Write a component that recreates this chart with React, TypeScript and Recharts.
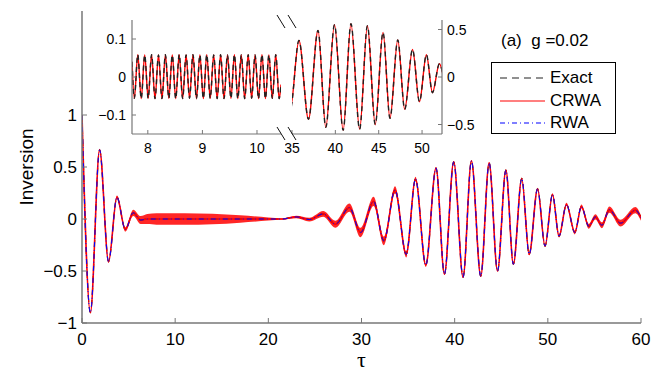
import { Area, ComposedChart, Label, Legend, Line, XAxis, YAxis } from 'recharts'

const FONT = '"Liberation Sans", Arial, Helvetica, sans-serif'
const AXIS = '#777777'
const MINUS = '\u2212'

// main panel: turning points of the slow envelope (Exact, CRWA and RWA overlap at this scale)
const tau = [
  0, 0.9, 1.89, 2.85, 3.75, 4.65, 5.5, 6.3, 7, 8, 11, 14, 17, 20, 21.5, 23, 24.4, 25.9, 27.2,
  28.7, 29.9, 31.3, 32.4, 33.6, 34.8, 35.8, 36.9, 38, 38.9, 39.9, 40.9, 41.8, 42.8, 43.7,
  44.6, 45.5, 46.3, 47.2, 48, 48.9, 49.7, 50.5, 51.2, 52, 52.9, 53.6, 54.4, 55.1, 55.8,
  56.6, 57.8, 59.4, 60,
]
const inversion = [
  1, -0.9, 0.665, -0.41, 0.21, -0.1, 0.06, -0.01, 0, 0, 0, 0, 0, 0, 0, 0.02, -0.005, 0.05, -0.05,
  0.11, -0.13, 0.17, -0.21, 0.28, -0.34, 0.385, -0.445, 0.49, -0.53, 0.55, -0.56, 0.56, -0.55,
  0.54, -0.5, 0.47, -0.435, 0.39, -0.34, 0.29, -0.26, 0.235, -0.165, 0.14, -0.13, 0.12, -0.07,
  0.02, -0.06, 0.09, -0.04, 0.085, 0.01,
]
// half width of the fast counter-rotating ripple (the red band)
const ripple = [
  0.005, 0.008, 0.01, 0.012, 0.015, 0.02, 0.03, 0.038, 0.048, 0.055, 0.055, 0.05, 0.035, 0.015,
  0.006, 0.012, 0.018, 0.028, 0.034, 0.04, 0.045, 0.045, 0.042, 0.036, 0.03, 0.022, 0.016, 0.01,
  0.008, 0.006, 0.006, 0.006, 0.006, 0.006, 0.006, 0.006, 0.006, 0.008, 0.008, 0.01, 0.01,
  0.012, 0.014, 0.016, 0.018, 0.02, 0.024, 0.026, 0.028, 0.03, 0.032, 0.03, 0.026,
]
const xTicks = [0, 10, 20, 30, 40, 50, 60]
const yTicks = [-1, -0.5, 0, 0.5, 1]

// inset, left part: turning points of the fast ripple
const zoomTau = [
  7.71, 7.753, 7.816, 7.879, 7.943, 8.006, 8.069, 8.132, 8.195, 8.259, 8.322, 8.385, 8.448,
  8.511, 8.575, 8.638, 8.701, 8.764, 8.827, 8.891, 8.954, 9.017, 9.08, 9.143, 9.207, 9.27,
  9.333, 9.396, 9.459, 9.523, 9.586, 9.649, 9.712, 9.775, 9.839, 9.902, 9.965, 10.028,
  10.091, 10.155, 10.218, 10.281, 10.344, 10.407, 10.44,
]
const zoomInv = [
  0.04, -0.056, 0.059, -0.057, 0.058, -0.056, 0.059, -0.057, 0.058, -0.057, 0.059, -0.056,
  0.058, -0.057, 0.059, -0.057, 0.058, -0.056, 0.059, -0.057, 0.058, -0.057, 0.059, -0.056,
  0.058, -0.057, 0.059, -0.057, 0.058, -0.056, 0.059, -0.057, 0.058, -0.057, 0.059, -0.056,
  0.058, -0.057, 0.059, -0.057, 0.058, -0.056, 0.059, -0.057, -0.02,
]
const leftXTicks = [8, 9, 10]
const leftYTicks = [-0.1, 0, 0.1]
const rightXTicks = [35, 40, 45, 50]
const rightYTicks = [-0.5, 0, 0.5]

const SERIES = ['Exact', 'CRWA', 'RWA']
const SAMPLE: Record<string, { stroke: string; dash?: string }> = {
  Exact: { stroke: '#222', dash: '7 5' },
  CRWA: { stroke: '#ff0000' },
  RWA: { stroke: '#0000ff', dash: '5 3 1 3' },
}

const mainRows = tau.map((t, i) => ({
  t,
  exact: inversion[i],
  crwa: inversion[i],
  rwa: inversion[i],
  band: [inversion[i] - ripple[i], inversion[i] + ripple[i]],
}))
const zoomRows = zoomTau.map((t, i) => ({ t, exact: zoomInv[i], crwa: zoomInv[i] }))
const rightRows = mainRows.filter((r) => r.t >= 33.6 && r.t <= 53.6)

const fmt = (v: number) => (v < 0 ? MINUS + String(-v) : String(v))

const tickBottom = (len: number, size: number, dy: number) => (p: any) => (
  <g>
    <line x1={p.x} x2={p.x} y1={p.y} y2={p.y - len} stroke={AXIS} />
    <text x={p.x} y={p.y + dy} textAnchor="middle" fontSize={size} fontFamily={FONT} fill="#000">
      {fmt(p.payload.value)}
    </text>
  </g>
)
const tickTop = (len: number) => (p: any) => (
  <line x1={p.x} x2={p.x} y1={p.y} y2={p.y + len} stroke={AXIS} />
)
const tickLeft = (len: number, size: number, gap: number) => (p: any) => (
  <g>
    <line x1={p.x} x2={p.x + len} y1={p.y} y2={p.y} stroke={AXIS} />
    <text x={p.x - gap} y={p.y} dy="0.36em" textAnchor="end" fontSize={size} fontFamily={FONT} fill="#000">
      {fmt(p.payload.value)}
    </text>
  </g>
)
const tickRight = (len: number, size = 0, gap = 0) => (p: any) => (
  <g>
    <line x1={p.x} x2={p.x - len} y1={p.y} y2={p.y} stroke={AXIS} />
    {size > 0 && (
      <text x={p.x + gap} y={p.y} dy="0.36em" textAnchor="start" fontSize={size} fontFamily={FONT} fill="#000">
        {fmt(p.payload.value)}
      </text>
    )}
  </g>
)

const renderYLabel = (props: any) => {
  const vb = props.viewBox
  const x = vb.x + 26
  const y = vb.y + vb.height / 2
  return (
    <text x={x} y={y} transform={`rotate(-90 ${x} ${y})`} textAnchor="middle" dominantBaseline="central" fontSize={19} fontFamily={FONT} fill="#000">
      Inversion
    </text>
  )
}

const renderXLabel = (props: any) => {
  const vb = props.viewBox
  return (
    <text x={vb.x + vb.width / 2} y={vb.y + 44} textAnchor="middle" fontSize={22} fontFamily='"Liberation Serif", serif' fill="#000">
      τ
    </text>
  )
}

const renderLegend = (props: any) => {
  const items = SERIES.map((name) => (props.payload || []).find((p: any) => p.value === name)).filter(Boolean)
  return (
    <div style={{ fontFamily: FONT, color: '#000' }}>
      <div style={{ fontSize: 17, lineHeight: '19px', paddingLeft: 10, whiteSpace: 'pre' }}>(a)  g =0.02</div>
      <div style={{ marginTop: 12, width: 125, height: 72, border: '1px solid #000', background: '#fff', paddingTop: 4, boxSizing: 'border-box' }}>
        {items.map((it: any) => (
          <div key={it.value} style={{ display: 'flex', alignItems: 'center', height: 22.5 }}>
            <svg width={58} height={10} style={{ display: 'block' }}>
              <line x1={8} x2={53} y1={5} y2={5} stroke={SAMPLE[it.value].stroke} strokeDasharray={SAMPLE[it.value].dash} strokeWidth={1.2} />
            </svg>
            <span style={{ fontSize: 17 }}>{it.value}</span>
          </div>
        ))}
      </div>
    </div>
  )
}

const axisLine = { stroke: AXIS, strokeWidth: 1.5 }
const insetLine = { stroke: AXIS, strokeWidth: 1.2 }

export default function App() {
  return (
    <div style={{ position: 'absolute', left: 0, top: 0, width: 654, height: 383, background: '#fff' }}>
      <ComposedChart width={654} height={383} data={mainRows} margin={{ top: 11, right: 13, bottom: 0, left: 0 }}>
        <XAxis dataKey="t" type="number" domain={[0, 60]} ticks={xTicks} interval={0} height={60} allowDataOverflow
          axisLine={axisLine} tickLine={false} tickSize={0} tickMargin={0} tick={tickBottom(5, 17, 22)}>
          <Label content={renderXLabel} />
        </XAxis>
        <XAxis xAxisId="top" orientation="top" dataKey="t" type="number" domain={[0, 60]} ticks={xTicks} interval={0} height={0}
          axisLine={axisLine} tickLine={false} tickSize={0} tickMargin={0} tick={tickTop(5)} />
        <YAxis type="number" domain={[-1, 2]} ticks={yTicks} interval={0} width={82} allowDataOverflow
          axisLine={axisLine} tickLine={false} tickSize={0} tickMargin={0} tick={tickLeft(5, 17, 5)}>
          <Label content={renderYLabel} />
        </YAxis>
        <YAxis yAxisId="right" orientation="right" type="number" domain={[-1, 2]} ticks={yTicks} interval={0} width={0}
          axisLine={axisLine} tickLine={false} tickSize={0} tickMargin={0} tick={tickRight(5)} />
        <Line dataKey="exact" name="Exact" type="monotone" stroke="#222" strokeDasharray="7 5" strokeWidth={1.2} dot={false} activeDot={false} isAnimationActive={false} />
        <Area dataKey="band" type="monotone" fill="#ff0000" fillOpacity={0.85} stroke="none" legendType="none" isAnimationActive={false} />
        <Line dataKey="crwa" name="CRWA" type="monotone" stroke="#ff0000" strokeWidth={1.6} dot={false} activeDot={false} isAnimationActive={false} />
        <Line dataKey="rwa" name="RWA" type="monotone" stroke="#0000ff" strokeDasharray="5 3 1 3" strokeWidth={1} dot={false} activeDot={false} isAnimationActive={false} />
        <Legend layout="vertical" verticalAlign="middle" align="center" content={renderLegend}
          wrapperStyle={{ left: 491, top: 31, width: 130, height: 105 }} />
      </ComposedChart>

      <div style={{ position: 'absolute', left: 90, top: 0 }}>
        <ComposedChart width={200} height={160} data={zoomRows} margin={{ top: 20, right: 9, bottom: 0, left: 0 }}>
          <XAxis dataKey="t" type="number" domain={[7.71, 10.44]} ticks={leftXTicks} interval={0} height={26} allowDataOverflow
            axisLine={insetLine} tickLine={false} tickSize={0} tickMargin={0} tick={tickBottom(4, 14, 19)} />
          <XAxis xAxisId="top" orientation="top" dataKey="t" type="number" domain={[7.71, 10.44]} ticks={leftXTicks} interval={0} height={0}
            axisLine={insetLine} tickLine={false} tickSize={0} tickMargin={0} tick={tickTop(4)} />
          <YAxis type="number" domain={[-0.15, 0.15]} ticks={leftYTicks} interval={0} width={42} allowDataOverflow
            axisLine={insetLine} tickLine={false} tickSize={0} tickMargin={0} tick={tickLeft(4, 14, 6)} />
          <Line dataKey="crwa" type="monotone" stroke="#ff0000" strokeWidth={1.4} dot={false} activeDot={false} isAnimationActive={false} />
          <Line dataKey="exact" type="monotone" stroke="#222" strokeDasharray="5 4" strokeWidth={1.4} dot={false} activeDot={false} isAnimationActive={false} />
        </ComposedChart>
      </div>

      <div style={{ position: 'absolute', left: 285, top: 0 }}>
        <ComposedChart width={200} height={160} data={rightRows} margin={{ top: 20, right: 0, bottom: 0, left: 7 }}>
          <XAxis dataKey="t" type="number" domain={[35, 52.3]} ticks={rightXTicks} interval={0} height={26} allowDataOverflow
            axisLine={insetLine} tickLine={false} tickSize={0} tickMargin={0} tick={tickBottom(4, 14, 19)} />
          <XAxis xAxisId="top" orientation="top" dataKey="t" type="number" domain={[35, 52.3]} ticks={rightXTicks} interval={0} height={0}
            axisLine={insetLine} tickLine={false} tickSize={0} tickMargin={0} tick={tickTop(4)} />
          <YAxis orientation="right" type="number" domain={[-0.6, 0.6]} ticks={rightYTicks} interval={0} width={43} allowDataOverflow
            axisLine={insetLine} tickLine={false} tickSize={0} tickMargin={0} tick={tickRight(4, 14, 5)} />
          <Line dataKey="crwa" type="monotone" stroke="#ff0000" strokeWidth={1.4} dot={false} activeDot={false} isAnimationActive={false} />
          <Line dataKey="exact" type="monotone" stroke="#222" strokeDasharray="5 4" strokeWidth={1.4} dot={false} activeDot={false} isAnimationActive={false} />
        </ComposedChart>
      </div>

      {/* axis-break marks between the two inset panels */}
      <svg width={654} height={383} style={{ position: 'absolute', left: 0, top: 0, pointerEvents: 'none' }}>
        <g stroke="#111" strokeWidth={1}>
          <line x1={277} y1={15} x2={285} y2={28} />
          <line x1={288} y1={15} x2={296} y2={28} />
          <line x1={277} y1={127} x2={285} y2={140} />
          <line x1={288} y1={127} x2={296} y2={140} />
        </g>
      </svg>
    </div>
  )
}
